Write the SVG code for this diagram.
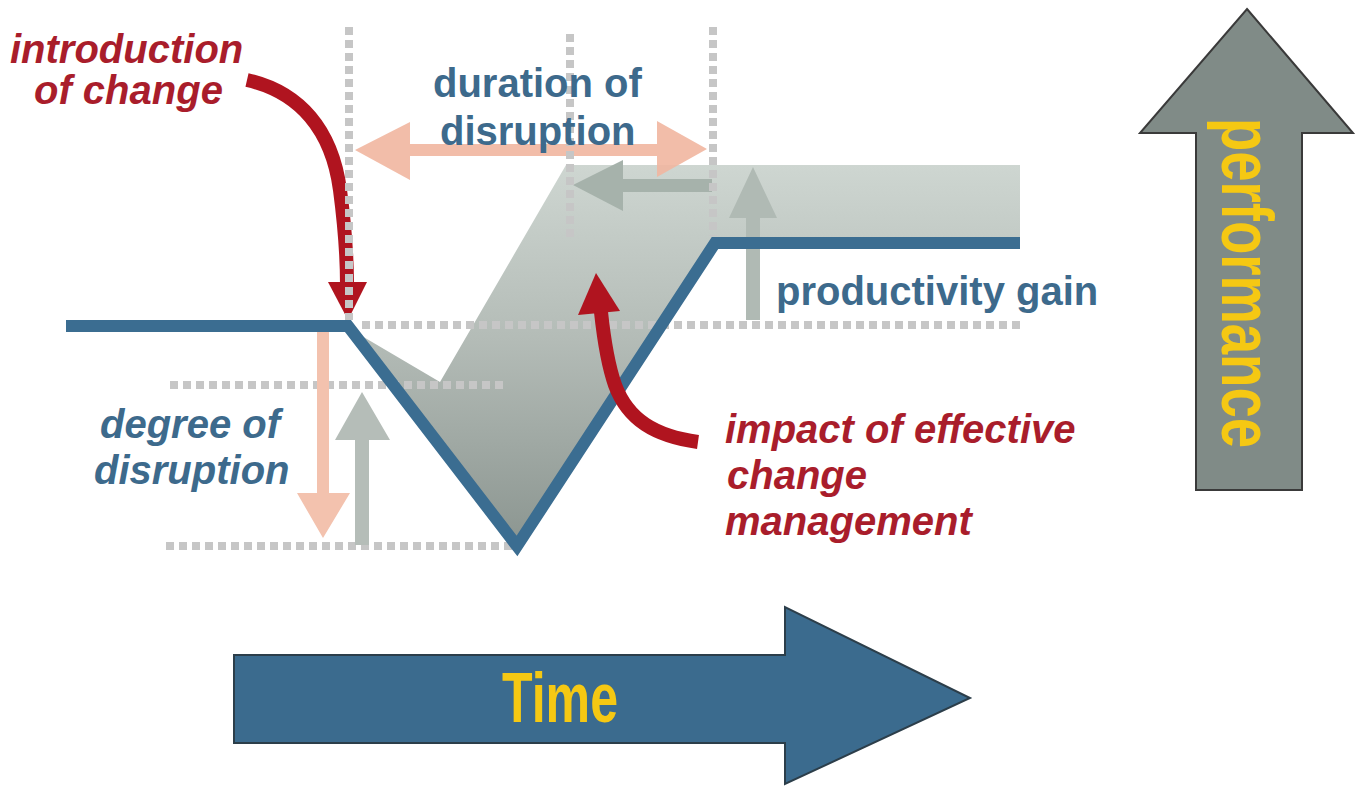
<svg xmlns="http://www.w3.org/2000/svg" width="1356" height="789" viewBox="0 0 1356 789">
  <defs>
    <linearGradient id="gainFill" gradientUnits="userSpaceOnUse" x1="0" y1="548" x2="0" y2="165">
      <stop offset="0" stop-color="#8b9590"/>
      <stop offset="0.55" stop-color="#b4bcb7"/>
      <stop offset="1" stop-color="#ced6d1"/>
    </linearGradient>
    <style>
      .dots { stroke: #c6c6c6; stroke-width: 8; stroke-dasharray: 8 5; fill: none; }
      .curve { stroke: #b0141f; stroke-width: 14; fill: none; }
      .head { fill: #b0141f; }
      .lbl { font-family: "Liberation Sans", Arial, sans-serif; font-weight: bold; font-size: 40px; }
      .red { fill: #a91d2b; font-style: italic; }
      .blue { fill: #3d6a8c; }
      .axis { font-family: "Liberation Sans", Arial, sans-serif; font-weight: bold; fill: #f5c813; }
    </style>
  </defs>
  <rect width="1356" height="789" fill="#ffffff"/>

  <!-- shaded area between the two curves -->
  <g id="gain-area">
    <polygon points="350,329 440,382 566,165 1020,165 1020,243 715,243 517,546" fill="url(#gainFill)"/>
  </g>

  <!-- measurement arrows -->
  <g id="duration-arrow">
    <polygon points="355,150 410,122 410,144 657,144 657,121 707,149 657,177 657,156 410,156 410,180" fill="#f1b6a0" opacity="0.9"/>
  </g>
  <g id="shortened-arrow">
    <polygon points="573,185 623,160 623,179 712,179 712,192 623,192 623,211" fill="#a6b2ab"/>
  </g>
  <g id="gain-arrow">
    <polygon points="753,167 777,218 760,218 760,320 746,320 746,218 729,218" fill="#b0bab4"/>
  </g>

  <!-- arrow marking the start of the change -->
  <g id="connectors">
    <g id="intro-pointer">
      <path class="curve" d="M247,80 C300,92 332,130 340,190 C345,228 347,255 347,285"/>
      <polygon class="head" points="328,282 367,282 348,320"/>
    </g>
  </g>

  <!-- dotted guide lines -->
  <g id="guides">
    <line class="dots" x1="349" y1="27" x2="349" y2="320"/>
    <line class="dots" x1="570" y1="34" x2="570" y2="240"/>
    <line class="dots" x1="713" y1="27" x2="713" y2="236"/>
    <line class="dots" x1="362" y1="325" x2="1020" y2="325"/>
    <line class="dots" x1="170" y1="385" x2="508" y2="385"/>
    <line class="dots" x1="166" y1="546" x2="512" y2="546"/>
  </g>

  <g id="depth-arrow">
    <polygon points="317,332 329,332 329,493 350,493 323,538 297,493 317,493" fill="#f3c2ae"/>
  </g>
  <g id="recovery-arrow">
    <polygon points="362,392 390,440 369,440 369,545 355,545 355,440 335,440" fill="#b5bdb8"/>
  </g>

  <!-- performance curve -->
  <g id="performance-curve">
    <polyline points="66,326 348,326 517,546 715,243 1020,243" fill="none" stroke="#3b6d91" stroke-width="12" stroke-linejoin="miter"/>
  </g>

  <g id="connectors-2">
    <g id="impact-pointer">
      <path class="curve" d="M698,442 C655,436 628,420 615,385 C608,365 604,340 601,312"/>
      <polygon class="head" points="578,315 620,311 596,273"/>
    </g>
  </g>

  <!-- labels -->
  <g id="label-intro" class="lbl red">
    <text x="10" y="63">introduction</text>
    <text x="34" y="104">of change</text>
  </g>
  <g id="label-duration" class="lbl blue">
    <text x="433" y="97">duration of</text>
    <text x="440" y="145">disruption</text>
  </g>
  <g id="label-gain" class="lbl blue">
    <text x="776" y="305">productivity gain</text>
  </g>
  <g id="label-degree" class="lbl blue" font-style="italic">
    <text x="100" y="438">degree of</text>
    <text x="94" y="484">disruption</text>
  </g>
  <g id="label-impact" class="lbl red">
    <text x="725" y="443">impact of effective</text>
    <text x="727" y="489">change</text>
    <text x="725" y="535">management</text>
  </g>

  <!-- axes -->
  <g id="performance-axis">
    <polygon points="1247,9 1353,133 1302,133 1302,490 1196,490 1196,133 1140,133" fill="#808b87" stroke="#3a3a3a" stroke-width="2" stroke-linejoin="miter"/>
    <text class="axis" transform="translate(1222,118) rotate(90)" x="0" y="0" font-size="72" textLength="330" lengthAdjust="spacingAndGlyphs">performance</text>
  </g>
  <g id="time-axis">
    <polygon points="234,655 785,655 785,607 970,698 785,784 785,743 234,743" fill="#3b6b8e" stroke="#2c3e4a" stroke-width="2" stroke-linejoin="miter"/>
    <text class="axis" x="502" y="722" font-size="70" textLength="116" lengthAdjust="spacingAndGlyphs">Time</text>
  </g>
</svg>
